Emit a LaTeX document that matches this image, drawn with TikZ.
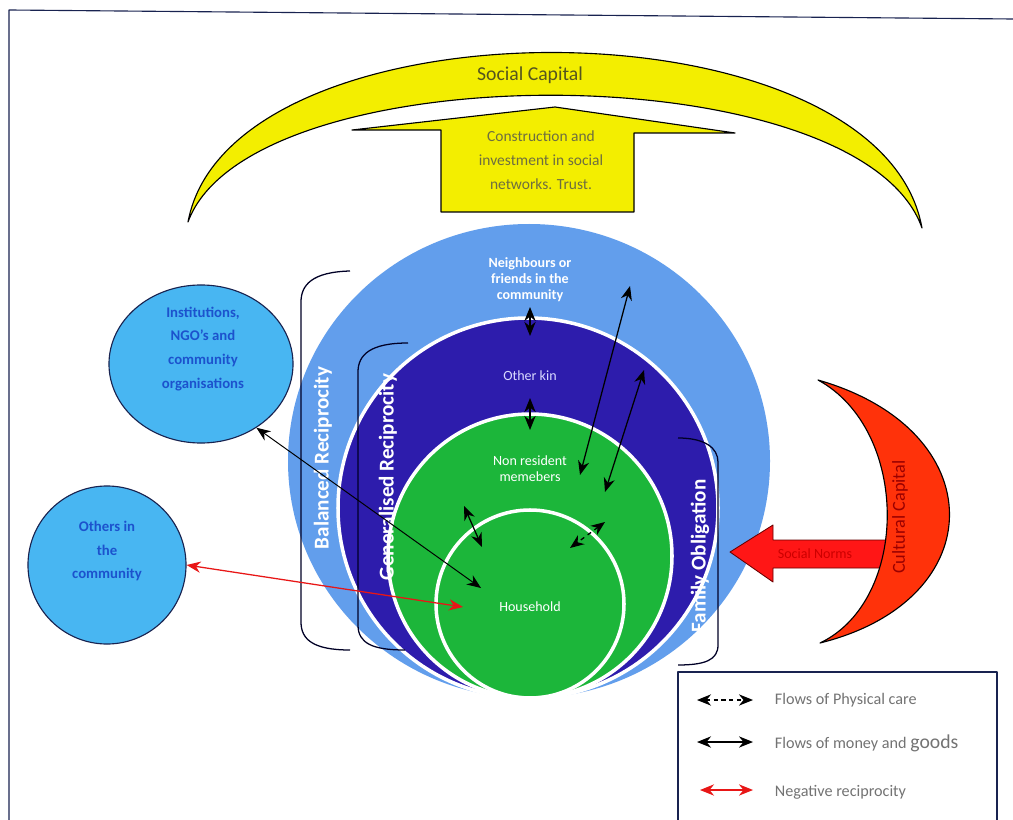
\documentclass[tikz,border=0pt]{standalone}
\usepackage{fontspec}
\setmainfont{Carlito}
\usetikzlibrary{arrows.meta,shapes.geometric}
\definecolor{yel}{RGB}{243,238,0}
\definecolor{olivetxt}{RGB}{85,85,30}
\definecolor{ltblue}{RGB}{98,158,236}
\definecolor{dkblue}{RGB}{45,28,172}
\definecolor{grn}{RGB}{28,182,58}
\definecolor{cyanb}{RGB}{72,182,242}
\definecolor{instblue}{RGB}{28,82,205}
\definecolor{navy}{RGB}{25,35,80}
\definecolor{redc}{RGB}{255,50,10}
\definecolor{redar}{RGB}{255,22,22}
\definecolor{negred}{RGB}{232,22,22}
\begin{document}
\begin{tikzpicture}[x=0.025cm, y=-0.025cm, line join=round, >={Stealth[length=10pt,width=8pt]},
    flow/.style={<->, line width=0.9pt, black},
    neg/.style={<->, line width=0.9pt, negred},
    brk/.style={line width=0.9pt, black!85!blue},
    side/.style={rotate=90, text=white, font=\fontsize{15}{15}\selectfont\bfseries},
    ring/.style={text=white, align=center, font=\fontsize{10}{11.5}\selectfont},
    bubble/.style={text=instblue, align=center, font=\fontsize{10.5}{17}\selectfont\bfseries},
    legtxt/.style={anchor=west, text=black!55, font=\fontsize{11.5}{12}\selectfont}]
    \clip (0,0) rectangle (1013,820);
    \fill[white] (0,0) rectangle (1013,820);
    \draw[navy, line width=0.8pt] (9,820) -- (9,10) -- (1013,19);
    % social capital
    \draw[fill=yel, line width=0.8pt] (188,222) .. controls (230,-5) and (880,-5) .. (922,228) .. controls (860,52) and (250,52) .. (188,222) -- cycle;
    \node[text=olivetxt, font=\fontsize{14}{14}\selectfont] (sc) at (530,75) {Social Capital};
    \draw[fill=yel, line width=0.8pt] (441,212) -- (441,130) -- (352,130) -- (555,107) -- (735,133) -- (634,133) -- (634,212) -- cycle;
    \node[text=olivetxt!85, align=center, font=\fontsize{11}{17}\selectfont] (inv) at (541,160) {Construction and\\investment in social\\networks. Trust.};
    % rings
    \fill[ltblue] (529,461) ellipse [x radius=241, y radius=237];
    \filldraw[fill=dkblue, draw=white, line width=2.5pt] (528,508) circle [radius=190];
    \filldraw[fill=grn, draw=white, line width=2.5pt] (530,556) circle [radius=142];
    \draw[white, line width=2.5pt] (530,604) circle [radius=94];
    \draw[brk] (350,271) .. controls (312,272) and (301,285) .. (301,302) -- (301,622) .. controls (301,640) and (314,650) .. (350,650);
    \draw[brk] (408,343) .. controls (370,343) and (358,355) .. (358,372) -- (358,625) .. controls (358,643) and (372,650) .. (405,650);
    \draw[brk] (678,438) .. controls (705,438) and (718,448) .. (718,462) -- (718,645) .. controls (718,660) and (705,665) .. (678,665);
    \node[side] (bal) at (323,458) {Balanced Reciprocity};
    \node[side] (gen) at (388,477) {Generalised Reciprocity};
    \node[side] (fam) at (700,556) {Family Obligation};
    \node[ring, font=\fontsize{10}{11.5}\selectfont\bfseries] (nb) at (530,280) {Neighbours or\\friends in the\\community};
    \node[ring, text=blue!15] (ok) at (530,376) {Other kin};
    \node[ring] (nr) at (530,469) {Non resident\\memebers};
    \node[ring] (hh) at (530,607) {Household};
    % cultural capital
    \draw[fill=redar, draw=black!60!red, line width=0.6pt] (730,552) -- (773,525) -- (773,540) -- (890,540) -- (890,568) -- (773,568) -- (773,582) -- cycle;
    \node[text=red!80!black, font=\fontsize{10}{10}\selectfont] (sn) at (815,554) {Social Norms};
    \draw[fill=redc, line width=0.8pt] (818,380) .. controls (993,430) and (993,600) .. (820,643) .. controls (910,600) and (910,430) .. (818,380) -- cycle;
    \node[rotate=90, text=red!60!black, font=\fontsize{13}{13}\selectfont] (cc) at (900,517) {Cultural Capital};
    % outside
    \node[ellipse, draw=navy, line width=0.8pt, fill=cyanb, minimum width=4.6cm, minimum height=3.95cm] (inst) at (201,364) {};
    \node[bubble] (insttxt) at (203,349) {Institutions,\\NGO's and\\community\\organisations};
    \node[circle, draw=navy, line width=0.8pt, fill=cyanb, minimum size=3.95cm] (oth) at (107,565) {};
    \node[bubble] (othtxt) at (107,551) {Others in\\the\\community};
    % flows
    \coordinate (a1) at (530,307); \coordinate (a2) at (530,336);
    \coordinate (b1) at (530,398); \coordinate (b2) at (530,430);
    \coordinate (c1) at (630,286); \coordinate (c2) at (580,475);
    \coordinate (d1) at (644,370); \coordinate (d2) at (605,492);
    \coordinate (e1) at (464,506); \coordinate (e2) at (482,547);
    \coordinate (f1) at (605,522); \coordinate (f2) at (570,548);
    \coordinate (hhA) at (481,588); \coordinate (hhB) at (463,607);
    \draw[flow] (a1) -- (a2);
    \draw[flow] (b1) -- (b2);
    \draw[flow] (c1) -- (c2);
    \draw[flow] (d1) -- (d2);
    \draw[flow] (e1) -- (e2);
    \draw[flow, dashed] (f1) -- (f2);
    \draw[flow, line width=0.7pt] (inst.-49) -- (hhA);
    \draw[neg] (oth.east) -- (hhB);
    % legend
    \draw[navy, line width=0.8pt, fill=white] (678,672) rectangle (997,830);
    \coordinate (k1) at (697,700); \coordinate (k2) at (753,700);
    \coordinate (m1) at (697,742); \coordinate (m2) at (753,742);
    \coordinate (n1) at (700,790); \coordinate (n2) at (753,790);
    \draw[flow, dash pattern=on 3pt off 2.5pt] (k1) -- (k2);
    \draw[flow] (m1) -- (m2);
    \draw[neg] (n1) -- (n2);
    \node[legtxt] (t1) at (770,700) {Flows of Physical care};
    \node[legtxt] (t2) at (770,743) {Flows of money and {\fontsize{14}{14}\selectfont goods}};
    \node[legtxt] (t3) at (770,792) {Negative reciprocity};
\end{tikzpicture}
\end{document}
